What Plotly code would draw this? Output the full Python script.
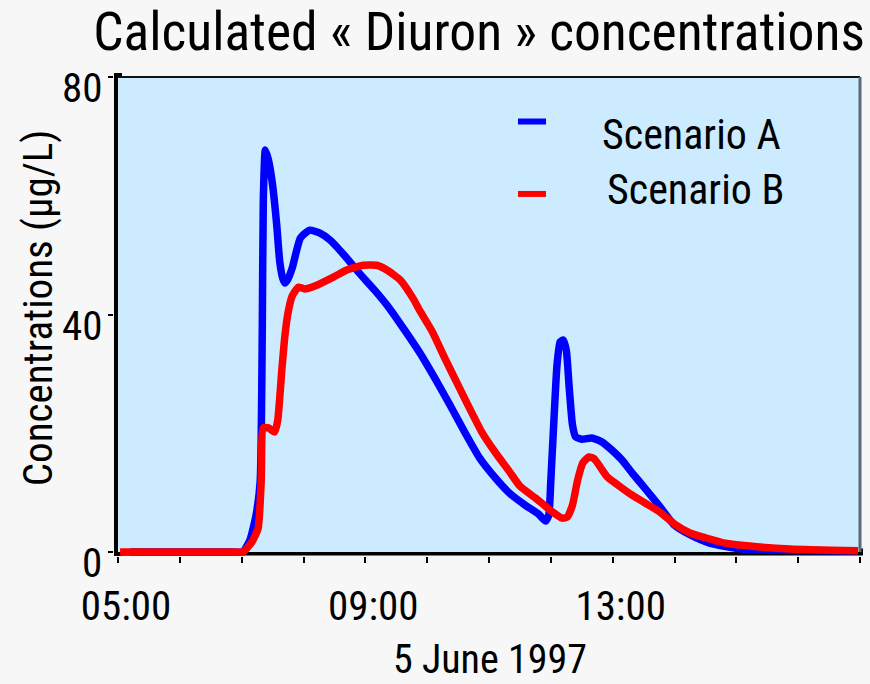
import plotly.graph_objects as go

DAY = "1997-06-05"

# Scenario A (blue) - simulated Diuron concentration, µg/L
time_a = ["05:12", "06:30", "06:52", "07:01", "07:08", "07:14", "07:18", "07:20",
          "07:21", "07:23", "07:26", "07:30", "07:34", "07:37", "07:40", "07:42",
          "07:45", "07:49", "07:57", "08:06", "08:16", "08:26", "08:40", "08:55",
          "09:09", "09:24", "09:38", "09:53", "10:08", "10:22", "10:37", "10:51",
          "11:06", "11:20", "11:35", "11:48", "11:55", "11:58", "12:00", "12:03",
          "12:06", "12:09", "12:12", "12:15", "12:18", "12:21", "12:24", "12:30",
          "12:40", "12:50", "12:59", "13:09", "13:19", "13:31", "13:46", "14:00",
          "14:15", "14:34", "15:04", "15:33", "16:58"]
conc_a = [0.0, 0.0, 0.0, 0.0, 2.0, 6.2, 12.0, 37.4,
          59.3, 67.7, 66.0, 61.8, 55.1, 48.8, 46.0, 45.3,
          46.0, 47.8, 52.9, 54.2, 53.7, 52.5, 49.9, 46.8,
          44.1, 40.9, 37.4, 33.5, 29.1, 24.8, 20.0, 15.8,
          12.5, 9.9, 7.9, 6.4, 5.2, 6.2, 12.1, 22.2,
          31.5, 35.4, 35.7, 34.0, 27.3, 21.4, 19.4, 19.0,
          19.2, 18.5, 17.2, 15.5, 13.3, 10.8, 7.6, 4.5,
          2.9, 1.5, 0.5, 0.3, 0.15]

# Scenario B (red)
time_b = ["05:02", "06:30", "06:52", "07:01", "07:10", "07:16", "07:19", "07:21",
          "07:26", "07:32", "07:35", "07:39", "07:42", "07:45", "07:49", "07:55",
          "08:01", "08:11", "08:29", "08:42", "08:58", "09:11", "09:21", "09:34",
          "09:46", "09:53", "10:05", "10:17", "10:30", "10:42", "10:53", "11:06",
          "11:20", "11:30", "11:45", "11:59", "12:11", "12:16", "12:21", "12:26",
          "12:31", "12:37", "12:42", "12:48", "12:55", "13:05", "13:17", "13:31",
          "13:46", "14:00", "14:15", "14:30", "14:49", "15:13", "15:52", "16:58"]
conc_b = [0.0, 0.0, 0.0, 0.0, 1.7, 4.0, 12.1, 20.9,
          20.9, 20.2, 22.2, 30.7, 36.5, 40.3, 43.1, 44.6,
          44.3, 44.8, 46.3, 47.5, 48.3, 48.3, 47.5, 45.8,
          42.8, 40.6, 37.1, 32.7, 28.1, 23.9, 20.2, 16.8,
          13.5, 11.1, 9.1, 7.1, 5.7, 5.9, 7.9, 12.1,
          15.0, 16.0, 15.7, 14.3, 12.6, 11.3, 9.8, 8.3,
          6.7, 4.7, 3.2, 2.4, 1.5, 1.0, 0.5, 0.2]

series_names = ["Scenario A", "Scenario B"]
series_colors = ["#0000FF", "#FF0000"]
y_ticks = [0, 40, 80]

FONT = "Liberation Sans Narrow, Arial Narrow, Roboto Condensed, DejaVu Sans Condensed, sans-serif"
PAPER = "#F7F7F7"
PANEL = "#CCEBFF"

def stamp(hhmm):
    return f"{DAY} {hhmm}"

fig = go.Figure()
for name, times, vals, col in [(series_names[0], time_a, conc_a, series_colors[0]),
                               (series_names[1], time_b, conc_b, series_colors[1])]:
    fig.add_trace(go.Scatter(
        x=[stamp(t) for t in times], y=vals, name=name, mode="lines",
        line=dict(color=col, width=7.5, shape="spline", smoothing=0.5),
        showlegend=False,
    ))

t_start, t_end = stamp("05:00"), stamp("17:00")

shapes = [
    # panel background
    dict(type="rect", xref="x", yref="y", x0=t_start, x1=t_end, y0=0, y1=80,
         fillcolor=PANEL, line=dict(width=0), layer="below"),
    # top and right frame
    dict(type="line", xref="x", yref="y", x0=t_start, x1=t_end, y0=80, y1=80,
         line=dict(color="#111111", width=2), layer="below"),
    dict(type="line", xref="x", yref="y", x0=t_end, x1=t_end, y0=0, y1=80,
         line=dict(color="#5A6878", width=3), layer="below"),
    # heavy axis lines
    dict(type="line", xref="x", yref="paper", x0=t_start, x1=t_start, y0=0, y1=0.994,
         line=dict(color="black", width=8), layer="below"),
    dict(type="line", xref="paper", yref="y", x0=0, x1=1, y0=0, y1=0,
         line=dict(color="black", width=7), layer="below"),
]

# legend keys
leg_x0, leg_x1 = 0.5394, 0.5768
for yy, col in [(0.894, series_colors[0]), (0.745, series_colors[1])]:
    shapes.append(dict(type="line", xref="paper", yref="paper", x0=leg_x0, x1=leg_x1,
                       y0=yy, y1=yy, line=dict(color=col, width=6), layer="above"))

annotations = [
    dict(text=series_names[0], xref="paper", yref="paper", x=0.7704, y=0.8683,
         showarrow=False, xanchor="center", yanchor="middle",
         font=dict(family=FONT, size=42, color="black")),
    dict(text=series_names[1], xref="paper", yref="paper", x=0.7764, y=0.7551,
         showarrow=False, xanchor="center", yanchor="middle",
         font=dict(family=FONT, size=42, color="black")),
    dict(text="Concentrations (µg/L)", xref="paper", yref="paper", x=-0.1015, y=0.512,
         textangle=-90, showarrow=False, xanchor="center", yanchor="middle",
         font=dict(family=FONT, size=41, color="black")),
    dict(text="5 June 1997", xref="paper", yref="paper", x=0.502, y=-0.2634,
         showarrow=False, xanchor="center", yanchor="bottom", borderpad=0,
         font=dict(family=FONT, size=40, color="black")),
]

# y tick labels sit slightly below their tick marks
for v in y_ticks:
    annotations.append(dict(text=str(v), xref="paper", yref="y", x=-0.0133, y=v,
                            yshift=-11, showarrow=False, xanchor="right", yanchor="middle",
                            font=dict(family=FONT, size=41, color="black")))

fig.update_layout(
    width=870, height=684,
    margin=dict(l=114, r=7, t=70, b=128),
    paper_bgcolor=PAPER, plot_bgcolor=PAPER,
    title=dict(text="Calculated « Diuron » concentrations", x=479 / 870, y=1 - 31 / 684,
               xref="container", yref="container", xanchor="center", yanchor="middle",
               font=dict(family=FONT, size=53.6, color="black")),
    shapes=shapes, annotations=annotations,
    xaxis=dict(type="date", range=["1997-06-05 04:56:07", "1997-06-05 17:02:55"],
               tick0=t_start, dtick=4 * 3600000, tickformat="%H:%M",
               ticks="outside", ticklen=6, tickwidth=1.5, tickcolor="black",
               minor=dict(dtick=3600000, tick0=t_start, ticks="outside", ticklen=6,
                          tickwidth=1.5, tickcolor="black", showgrid=False),
               showgrid=False, zeroline=False, showline=False,
               ticklabelshift=8, ticklabelstandoff=8,
               tickfont=dict(family=FONT, size=41, color="black")),
    yaxis=dict(range=[-0.6737, 81.179], tickvals=y_ticks, showticklabels=False,
               ticks="outside", ticklen=5, tickwidth=1.5, tickcolor="black",
               showgrid=False, zeroline=False, showline=False),
)

fig.write_html("out.html")
